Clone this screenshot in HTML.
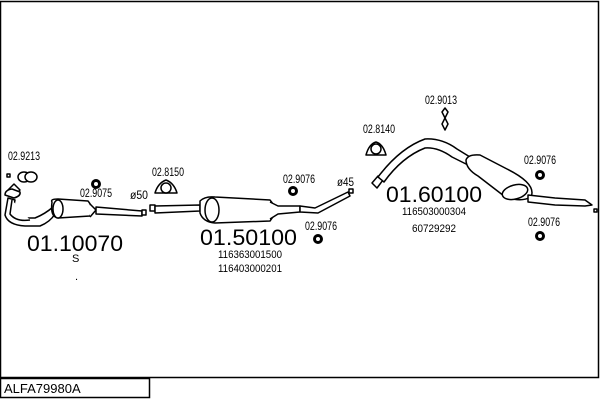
<!DOCTYPE html>
<html><head><meta charset="utf-8"><style>
html,body{margin:0;padding:0;background:#fff;}
svg{display:block;}
text{font-family:"Liberation Sans",sans-serif;fill:#000;}
</style></head><body>
<svg width="600" height="400" viewBox="0 0 600 400" xmlns="http://www.w3.org/2000/svg">
<rect x="0.5" y="1.5" width="598" height="376" fill="none" stroke="#000" stroke-width="1.5"/>
<rect x="0.5" y="378.5" width="149" height="19" fill="none" stroke="#000" stroke-width="1.5"/>
<text x="4" y="393" font-size="13">ALFA79980A</text>

<g fill="#fff" stroke="#000" stroke-width="1.5" stroke-linejoin="round">
<!-- front pipe -->
<path d="M8,190 L14,184 L20,190 L14,196 Z"/>
<path d="M5,195 Q5,190 12,189 L20,192 Q21,196 14,198 Z"/>
<path d="M8,198 L5,215 Q8,225 25,226 L40,226 Q50,222 55,214 L53,207 Q45,214 35,218 L18,218 Q12,214 15,200 Z"/>
<path d="M12,200 L10,214 Q16,222 30,220"/>
<!-- converter -->
<path d="M52,202 Q50,199 58,199 L88,201 Q94,208 90,216 L58,218 Q50,217 52,202 Z"/>
<ellipse cx="58" cy="209" rx="5" ry="9"/>
<path d="M90,204 L96,210 L90,217"/>
<path d="M96,207 L142,211 L142,216 L96,214 Z"/>
<rect x="142" y="210" width="4" height="5"/>
<!-- middle section -->
<rect x="150" y="205" width="5" height="6"/>
<path d="M155,206 L200,205 L200,211 L155,213 Z"/>
<path d="M200,201 Q205,196 215,197 L270,200 Q279,210 270,221 L215,223 Q203,222 200,213 Z"/>
<ellipse cx="212" cy="210" rx="7" ry="12"/>
<path d="M270,202 L278,206 L300,206 L300,212 L278,214 L270,219"/>
<path d="M300,206 L315,208 L348,192 L350,196 L318,213 L300,212 Z"/>
<rect x="349" y="189" width="4" height="4"/>
<!-- rear section -->
<path d="M372,183 L378,176 L383,180 L377,188 Z"/>
<path d="M378,177 Q400,148 425,139 Q442,138 457,149 L470,157 L468,165 L452,157 Q438,147 425,148 Q402,157 384,182 Z"/>
<path d="M466,160 Q468,154 480,155 L507,169 Q537,184 531,197 Q520,203 504,196 L478,176 Q466,169 466,160 Z"/>
<ellipse cx="515" cy="192" rx="13" ry="7" transform="rotate(-15 515 192)"/>
<path d="M528,195 L555,198 L585,200 L592,205 L585,206 L555,205 L528,202 Z"/>
<rect x="594" y="209" width="3" height="3"/>
<!-- hangers/clamps -->
<ellipse cx="24" cy="177" rx="6" ry="5"/><ellipse cx="31" cy="177" rx="6" ry="5"/>
<rect x="7" y="174" width="3" height="3"/>
<path d="M155,193 Q158,183 166,180 Q174,183 177,193 Z"/><circle cx="166" cy="188" r="5"/>
<path d="M366,155 Q369,144 376,142 Q383,144 386,155 Z"/><circle cx="376" cy="149" r="5"/>
<path d="M442,112 L445,108 L448,112 L445,118 L448,124 L445,130 L442,124 L445,118 Z"/>
</g>
<g fill="#fff" stroke="#000" stroke-width="3">
<circle cx="96" cy="184" r="3.5"/>
<circle cx="293" cy="191" r="3.5"/>
<circle cx="318" cy="239" r="3.5"/>
<circle cx="540" cy="175" r="3.5"/>
<circle cx="540" cy="236" r="3.5"/>
</g>

<g font-size="12">
<text x="8" y="160" textLength="32" lengthAdjust="spacingAndGlyphs">02.9213</text>
<text x="80" y="197" textLength="32" lengthAdjust="spacingAndGlyphs">02.9075</text>
<text x="130" y="199" textLength="18" lengthAdjust="spacingAndGlyphs">ø50</text>
<text x="152" y="176" textLength="32" lengthAdjust="spacingAndGlyphs">02.8150</text>
<text x="283" y="183" textLength="32" lengthAdjust="spacingAndGlyphs">02.9076</text>
<text x="337" y="186" textLength="17" lengthAdjust="spacingAndGlyphs">ø45</text>
<text x="305" y="230" textLength="32" lengthAdjust="spacingAndGlyphs">02.9076</text>
<text x="363" y="133" textLength="32" lengthAdjust="spacingAndGlyphs">02.8140</text>
<text x="425" y="104" textLength="32" lengthAdjust="spacingAndGlyphs">02.9013</text>
<text x="524" y="164" textLength="32" lengthAdjust="spacingAndGlyphs">02.9076</text>
<text x="528" y="226" textLength="32" lengthAdjust="spacingAndGlyphs">02.9076</text>
</g>
<g font-size="11">
<text x="218" y="258" textLength="64" lengthAdjust="spacingAndGlyphs">116363001500</text>
<text x="218" y="272" textLength="64" lengthAdjust="spacingAndGlyphs">116403000201</text>
<text x="402" y="215" textLength="64" lengthAdjust="spacingAndGlyphs">116503000304</text>
<text x="412" y="232" textLength="44" lengthAdjust="spacingAndGlyphs">60729292</text>
<text x="72" y="262">S</text>
<text x="75" y="280">.</text>
</g>
<g font-size="22">
<text x="27" y="251" textLength="96" lengthAdjust="spacingAndGlyphs">01.10070</text>
<text x="200" y="245" textLength="97" lengthAdjust="spacingAndGlyphs">01.50100</text>
<text x="386" y="202" textLength="96" lengthAdjust="spacingAndGlyphs">01.60100</text>
</g>
</svg>
</body></html>
